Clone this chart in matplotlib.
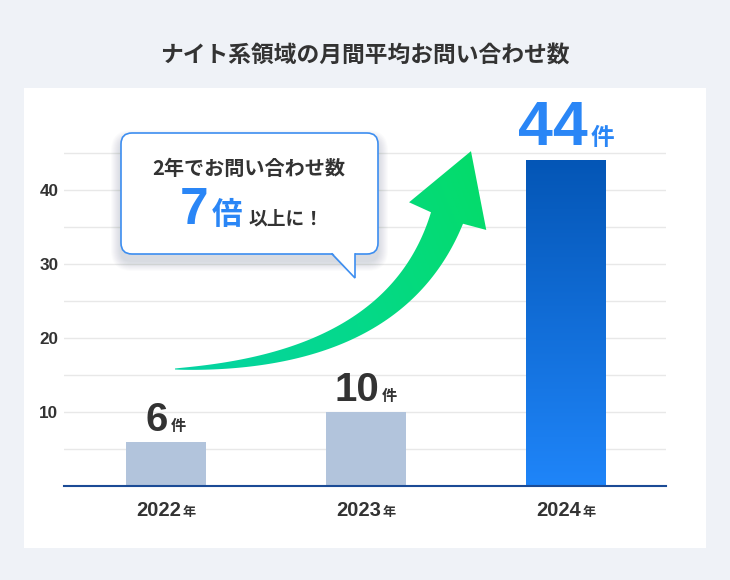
import numpy as np
import matplotlib.pyplot as plt
from matplotlib.patches import Rectangle, FancyBboxPatch, Polygon
from matplotlib.colors import LinearSegmentedColormap
from matplotlib.offsetbox import TextArea, HPacker, AnnotationBbox

# data
years = ["2022", "2023", "2024"]
counts = [6, 10, 44]
grid_vals = [5, 10, 15, 20, 25, 30, 35, 40, 45]
tick_labels = ["", "10", "", "20", "", "30", "", "40", ""]
year_unit = "年"
count_unit = "件"
title = "ナイト系領域の月間平均お問い合わせ数"
bubble_line1 = "2年でお問い合わせ数"
bubble_num = "7"
bubble_mult = "倍"
bubble_rest = "以上に！"

JP = ["Noto Sans CJK JP", "DejaVu Sans"]
NUM = ["Liberation Sans", "DejaVu Sans"]
DARK = "#333333"
BLUE = "#2a86f6"
W, H = 730, 580

fig = plt.figure(figsize=(7.3, 5.8), dpi=100)
fig.patch.set_facecolor("#eff2f7")
fig.add_artist(Rectangle((24 / W, 1 - 548 / H), 682 / W, 460 / H, transform=fig.transFigure,
                         facecolor="white", edgecolor="none", zorder=-5))
fig.text(365 / W, 1 - 55 / H, title, ha="center", va="center", fontsize=16.4,
         fontweight="bold", family=JP, color=DARK)

#----------- bars -----------#
ax = fig.add_axes([64 / W, 94 / H, 602 / W, 334.5 / H])
ax.set_facecolor("none")
x = np.arange(len(years))
bars = ax.bar(x, counts, width=0.4, color=["#b2c4dc", "#b2c4dc", "#1a6fd8"], zorder=3)

grad = np.linspace(0, 1, 256).reshape(-1, 1)
cmap = LinearSegmentedColormap.from_list("bar", ["#1f85f9", "#0456b6"])
b = bars[-1]
im = ax.imshow(grad, cmap=cmap, origin="lower", aspect="auto", zorder=4,
               extent=[b.get_x(), b.get_x() + b.get_width(), 0, b.get_height()])
im.set_clip_path(b)

ax.set_xlim(-0.51, 2.5)
ax.set_ylim(0, 45.2)
ax.set_xticks([])
ax.set_yticks(grid_vals)
ax.set_yticklabels(tick_labels, fontfamily=NUM, fontweight="bold", fontsize=12.3, color=DARK)
ax.tick_params(axis="y", length=0, pad=4)
ax.yaxis.grid(True, color="#e8e8e8", lw=1)
ax.set_axisbelow(True)
for s in ["left", "right", "top"]:
    ax.spines[s].set_visible(False)
ax.spines["bottom"].set_color("#1b4b96")
ax.spines["bottom"].set_linewidth(1.5)
ax.spines["bottom"].set_zorder(5)

for i, v in enumerate(counts):
    col = BLUE if i == len(counts) - 1 else DARK
    big = 45 if i == len(counts) - 1 else 29
    small = 17 if i == len(counts) - 1 else 11
    pack = HPacker(children=[
        TextArea(str(v), textprops=dict(fontsize=big, fontweight="bold", family=NUM, color=col)),
        TextArea(count_unit, textprops=dict(fontsize=small, fontweight="bold", family=JP, color=col))],
        align="baseline", pad=0, sep=2)
    ax.add_artist(AnnotationBbox(pack, (i, v), xybox=(0, 2), boxcoords="offset points",
                                 box_alignment=(0.5, 0), frameon=False, annotation_clip=False))

    lab = HPacker(children=[
        TextArea(years[i], textprops=dict(fontsize=14.5, fontweight="bold", family=NUM, color=DARK)),
        TextArea(year_unit, textprops=dict(fontsize=9.5, fontweight="bold", family=JP, color=DARK))],
        align="baseline", pad=0, sep=1.5)
    ax.add_artist(AnnotationBbox(lab, (i, 0), xycoords=("data", "axes fraction"), xybox=(0, -11),
                                 boxcoords="offset points", box_alignment=(0.5, 1),
                                 frameon=False, annotation_clip=False))

#----------- overlay: arrow and bubble -----------#
ov = fig.add_axes([0, 0, 1, 1], zorder=5)
ov.set_xlim(0, W)
ov.set_ylim(H, 0)
ov.axis("off")

p0 = np.array([175.0, 369.0])
p1 = np.array([395.0, 363.0])
p2 = np.array([447.0, 218.0])
t = np.linspace(0, 1, 100)[:, None]
c = (1 - t) ** 2 * p0 + 2 * t * (1 - t) * p1 + t ** 2 * p2
d = 2 * (1 - t) * (p1 - p0) + 2 * t * (p2 - p1)
d = d / np.linalg.norm(d, axis=1, keepdims=True)
n = np.column_stack([d[:, 1], -d[:, 0]])
hw = 0.5 + 16.5 * t ** 0.85
side_a = c + n * hw
side_b = c - n * hw
end, de, ne = c[-1], d[-1], n[-1]
tip = end + de * 71
barb_l = end + ne * 41 + de * 2
barb_r = end - ne * 41 + de * 2
arrow_pts = np.vstack([side_a, barb_l, tip, barb_r, side_b[::-1]])
arrow = Polygon(arrow_pts, closed=True, facecolor="none", edgecolor="none")
ov.add_patch(arrow)

xs = np.linspace(165, 495, 200)
ys = np.linspace(140, 380, 150)
gx, gy = np.meshgrid(xs, ys)
gz = ((gx - 165) * 0.7 + (380 - gy) * 0.3) / (330 * 0.7 + 240 * 0.3)
acmap = LinearSegmentedColormap.from_list("arr", ["#05d3a6", "#04d98a", "#04dc66"])
aim = ov.imshow(gz, cmap=acmap, origin="lower", extent=[165, 495, 140, 380], aspect="auto", zorder=2)
aim.set_clip_path(arrow)

# bubble shadow
for k in range(1, 11):
    ov.add_patch(FancyBboxPatch((121 - k, 140 - k), 257 + 2 * k, 121 + 2 * k,
                                boxstyle="round,pad=0,rounding_size=%d" % (11 + k),
                                facecolor="#1e2a40", edgecolor="none", alpha=0.016, zorder=3))
ov.add_patch(FancyBboxPatch((121, 133), 257, 121, boxstyle="round,pad=0,rounding_size=11",
                            facecolor="white", edgecolor="#3d8ef0", lw=1.2, zorder=4))
ov.add_patch(Polygon([(332, 252.3), (355, 277), (355, 252.3)], closed=True,
                     facecolor="white", edgecolor="none", zorder=5))
ov.plot([332, 355, 355], [254, 278, 254], color="#3d8ef0", lw=1.2, zorder=6,
        solid_joinstyle="miter")

ov.text(248.5, 168.5, bubble_line1, ha="center", va="center", fontsize=14.5,
        fontweight="bold", family=JP, color=DARK, zorder=7)
big7 = HPacker(children=[
    TextArea(bubble_num, textprops=dict(fontsize=37, fontweight="bold", family=NUM, color=BLUE)),
    TextArea(bubble_mult, textprops=dict(fontsize=22, fontweight="bold", family=JP, color=BLUE))],
    align="baseline", pad=0, sep=2)
line2 = HPacker(children=[
    big7,
    TextArea(bubble_rest, textprops=dict(fontsize=13.5, fontweight="bold", family=JP, color=DARK))],
    align="baseline", pad=0, sep=5)
ab = AnnotationBbox(line2, (252, 235), box_alignment=(0.5, 0), frameon=False, annotation_clip=False)
ab.set_zorder(7)
ov.add_artist(ab)

plt.savefig("out.png", dpi=100, facecolor=fig.get_facecolor())
